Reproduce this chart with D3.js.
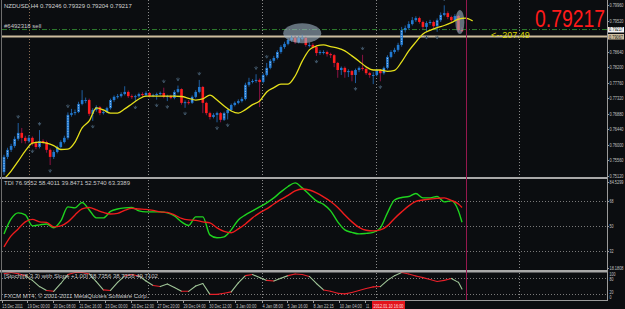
<!DOCTYPE html>
<html>
<head>
<meta charset="utf-8">
<script src="https://cdn.jsdelivr.net/npm/d3@7"></script>
<style>
html, body { margin: 0; padding: 0; background: #0b0d10; overflow: hidden; }
svg { display: block; }
text { font-family: "Liberation Sans", Arial, sans-serif; }
</style>
</head>
<body>
<svg id="chart" width="625" height="309"></svg>
<script>
// ---- data (prices in pips, 1 pip = 0.0001) ----
const symbol = "NZDUSD,H4"
const lastOHLC = [0.79246, 0.79329, 0.79204, 0.79217]
const firstOpenPips = 7523
const closePips = [
  7566,7586,7597,7617,7634,7620,7611,7620,7605,7594,
  7611,7608,7586,7566,7580,7594,7608,7620,7685,7690,
  7693,7716,7727,7727,7688,7699,7707,7690,7693,7704,
  7727,7736,7738,7744,7750,7738,7736,7738,7744,7741,
  7747,7738,7741,7744,7747,7736,7738,7733,7750,7758,
  7719,7721,7719,7736,7750,7764,7719,7690,7679,7685,
  7690,7671,7690,7699,7713,7719,7724,7730,7770,7778,
  7781,7784,7778,7798,7818,7838,7846,7863,7877,7886,
  7897,7903,7891,7903,7903,7883,7883,7877,7860,7863,
  7863,7857,7854,7832,7812,7818,7806,7809,7798,7812,
  7818,7815,7803,7798,7798,7812,7803,7818,7849,7863,
  7869,7883,7925,7931,7942,7953,7959,7948,7934,7945,
  7948,7936,7953,7968,7973,7962,7953,7965,7925,7922]
const highPips = [
  7572,7592,7603,7624,7662,7648,7626,7628,7624,7610,
  7642,7616,7612,7590,7585,7598,7613,7626,7692,7702,
  7700,7722,7755,7734,7731,7704,7712,7710,7698,7708,
  7731,7740,7744,7749,7766,7754,7743,7742,7748,7749,
  7752,7750,7745,7748,7751,7762,7742,7742,7755,7768,
  7760,7726,7727,7740,7755,7784,7767,7722,7694,7690,
  7694,7693,7694,7703,7717,7723,7729,7735,7776,7790,
  7786,7800,7788,7803,7832,7843,7852,7868,7882,7892,
  7902,7910,7908,7909,7912,7906,7890,7888,7880,7868,
  7868,7867,7861,7857,7835,7822,7822,7814,7812,7816,
  7822,7855,7819,7807,7806,7816,7815,7822,7854,7868,
  7875,7889,7934,7938,7950,7962,7964,7963,7952,7950,
  7954,7952,7958,7975,7995,7978,7966,7970,7968,7933]
const lowPips = [
  7515,7560,7580,7592,7612,7605,7604,7606,7598,7588,
  7590,7602,7578,7543,7560,7576,7590,7604,7615,7680,
  7684,7690,7712,7718,7682,7668,7694,7684,7686,7690,
  7700,7722,7731,7734,7740,7733,7730,7722,7734,7736,
  7737,7734,7735,7728,7740,7732,7724,7729,7729,7746,
  7714,7705,7714,7716,7732,7746,7690,7684,7672,7675,
  7664,7664,7668,7672,7695,7709,7715,7720,7726,7765,
  7774,7776,7707,7774,7794,7814,7832,7842,7858,7872,
  7882,7892,7886,7887,7896,7878,7876,7870,7852,7855,
  7856,7850,7846,7820,7790,7798,7790,7792,7780,7775,
  7806,7810,7798,7790,7772,7794,7780,7799,7814,7845,
  7858,7864,7878,7918,7926,7938,7948,7943,7928,7920,
  7940,7930,7920,7948,7964,7956,7948,7949,7920,7920]

// fractal arrows (bar indices)
const fractalUp = [4, 10, 18, 45, 49, 55, 71, 74, 101, 124]
const fractalDown = [8, 13, 25, 37, 43, 46, 51, 60, 63, 88, 99, 106, 119, 122]

// shifted moving average, one value every 2 bars from bar 0
const maPips = [
  7503,7526,7554,7583,7605,7608,7605,7598,7587,7588,
  7608,7648,7668,7705,7699,7690,7690,7702,7716,7730,
  7738,7738,7738,7738,7738,7737,7732,7727,7730,7741,
  7727,7710,7696,7690,7700,7714,7724,7750,7762,7772,
  7772,7795,7837,7869,7880,7883,7878,7874,7866,7852,
  7837,7821,7812,7812,7808,7811,7835,7866,7891,7914,
  7924,7932,7938,7946,7956,7959,7951]

// TDI: price line (green) and signal line (red), every 2 bars + last bar
const tdiPrice = [
  44.2,55.0,59.4,57.9,50.0,50.7,51.4,48.6,53.6,63.7,
  63.0,66.9,61.5,55.8,55.8,60.4,62.2,63.0,63.3,60.8,
  60.1,60.1,60.1,59.4,57.2,52.9,50.4,56.5,56.5,43.5,
  41.4,42.1,47.1,54.3,57.9,60.8,63.7,66.6,70.2,74.5,
  78.4,81.0,77.4,72.7,68.0,65.5,60.8,52.9,47.1,45.3,
  44.2,44.6,45.3,48.6,59.4,68.7,70.5,71.2,73.4,70.2,
  70.2,71.2,67.3,68.0,60.8,52.6]
const tdiSignal = [
  34.9,42.8,47.8,52.9,54.7,52.9,52.5,49.3,50.0,52.9,
  57.9,62.2,63.3,61.5,59.7,58.6,59.0,61.2,62.6,62.2,
  61.9,61.2,60.1,59.7,57.9,55.4,54.3,54.0,52.9,52.2,
  48.6,46.0,45.0,47.8,51.4,55.8,59.4,62.2,65.8,69.1,
  72.0,75.2,76.6,75.9,73.8,70.9,67.6,63.3,57.9,52.9,
  48.9,46.8,46.4,47.1,50.0,55.4,60.1,64.4,67.6,68.7,
  69.4,69.8,70.2,68.4,65.8,63.3]
const stochMain = [
  94,98,94,87,70,48,34,31,59,91,
  98,98,93,66,36,34,63,86,91,86,
  68,52,48,57,45,31,31,50,59,20,
  20,24,29,61,87,91,80,70,68,78,
  87,93,91,84,59,36,31,24,22,27,
  34,41,47,48,70,87,98,93,86,80,
  73,66,70,77,63,39]

// axis ticks and labels
const priceTicks = [0.79960,0.79520,0.79080,0.78640,0.78200,0.77760,0.77320,0.76880,0.76440,0.76000,0.75560,0.75120]
const orderPrice = 0.79265
const levelPrice = 0.79067
const tdiRange = [18.1808, 84.5299]
const tdiLevels = [68, 50, 32]
const stochLevels = [80, 20]
const weekBars = [7, 40.6, 72.7, 104.8, 145.1]
const cursorBar = 130
const timeLabels = ["15 Dec 2011","19 Dec 00:00","20 Dec 08:00","21 Dec 16:00","23 Dec 00:00","26 Dec 12:00",
  "27 Dec 20:00","29 Dec 04:00","30 Dec 12:00","3 Jan 00:00","4 Jan 08:00","5 Jan 16:00","8 Jan 22:15",
  "10 Jan 04:00","11 ."]
const timeLabelBars = [-0.6,6.5,13.8,21.1,28.4,35.8,43.1,50.4,57.7,65.2,72.7,79.7,87.0,94.4,101.8]

// ---- layout ----
const W = 625, H = 309
const left = 2, right = 607
const fmt5 = d3.format(".5f"), fmt4 = d3.format(".4f")

const x = d3.scaleLinear().domain([0, 129]).range([4, 462])
const yP = d3.scaleLinear().domain([0.75120, 0.79960]).range([176, 5])
const yT = d3.scaleLinear().domain(tdiRange).range([270, 178])
const yS = d3.scaleLinear().domain([0, 100]).range([300, 272])

// squeeze texts horizontally so they keep the narrow MT4 look
function squeeze(sel, px, py, width) {
  sel.attr("x", 0).attr("y", 0).each(function(d, k) {
    const w = this.getComputedTextLength()
    const s = Math.min(1, width(d, k) / w)
    d3.select(this).attr("transform", `translate(${px(d, k)},${py(d, k)}) scale(${s},1)`)
  })
}

const svg = d3.select("#chart")
svg.append("rect").attr("width", W).attr("height", H).attr("fill", "#0b0d10")

svg.append("defs").append("clipPath").attr("id", "mainclip")
  .append("rect").attr("x", left).attr("y", 0).attr("width", right - left).attr("height", 177)

// week separators
svg.append("g").selectAll("line").data(weekBars).join("line")
  .attr("x1", d => Math.round(x(d)) + .5).attr("x2", d => Math.round(x(d)) + .5)
  .attr("y1", 0).attr("y2", 300)
  .attr("stroke", (d, i) => i == 0 ? "#8c6c52" : "#8a8a8a")
  .attr("stroke-dasharray", "1,2")

// dotted levels in the sub windows
const levels = tdiLevels.map(v => yT(v)).concat(stochLevels.map(v => yS(v)))
svg.append("g").selectAll("line").data(levels).join("line")
  .attr("x1", left).attr("x2", right)
  .attr("y1", d => Math.round(d) + .5).attr("y2", d => Math.round(d) + .5)
  .attr("stroke", "#7a7a7a").attr("stroke-dasharray", "1,2")

// ---- main window ----
const main = svg.append("g").attr("clip-path", "url(#mainclip)")

main.append("line")
  .attr("x1", left).attr("x2", right)
  .attr("y1", yP(orderPrice)).attr("y2", yP(orderPrice))
  .attr("stroke", "#2f7d2f").attr("stroke-dasharray", "5,2,1,2")
main.append("line")
  .attr("x1", left).attr("x2", right)
  .attr("y1", yP(levelPrice)).attr("y2", yP(levelPrice))
  .attr("stroke", "#cdbd9e").attr("stroke-width", 2)

const bars = closePips.map((c, i) => ({
  i: i,
  o: (i ? closePips[i - 1] : firstOpenPips) / 1e4,
  h: highPips[i] / 1e4,
  l: lowPips[i] / 1e4,
  c: c / 1e4
}))

const candle = main.append("g").selectAll("g").data(bars).join("g")
candle.append("line")
  .attr("x1", d => x(d.i)).attr("x2", d => x(d.i))
  .attr("y1", d => yP(d.h)).attr("y2", d => yP(d.l))
  .attr("stroke", d => d.c >= d.o ? "#1f5d9e" : "#8c1242")
candle.append("rect")
  .attr("x", d => x(d.i) - 1.3).attr("width", 2.6)
  .attr("y", d => yP(Math.max(d.o, d.c)))
  .attr("height", d => Math.max(1, Math.abs(yP(d.o) - yP(d.c))))
  .attr("fill", d => d.c >= d.o ? "#2179d0" : "#ff1e1e")
candle.filter(d => d.c > d.o && yP(d.o) - yP(d.c) > 5).append("line")
  .attr("x1", d => x(d.i)).attr("x2", d => x(d.i))
  .attr("y1", d => yP(d.c) + 1).attr("y2", d => yP(d.o) - 1)
  .attr("stroke", "#cfe6ff").attr("stroke-width", .8).attr("stroke-dasharray", "1,1.5")

// fractal arrows
const arrow = "M-1.5,-1.2 L0,1.2 L1.5,-1.2 M0,1.2 L0,-2"
main.append("g").selectAll("path").data(fractalUp).join("path")
  .attr("transform", i => `translate(${x(i)},${yP(highPips[i] / 1e4) - 6})`)
  .attr("d", arrow).attr("fill", "none").attr("stroke", "#3f5466")
main.append("g").selectAll("path").data(fractalDown).join("path")
  .attr("transform", i => `translate(${x(i)},${yP(lowPips[i] / 1e4) + 6})`)
  .attr("d", arrow).attr("fill", "none").attr("stroke", "#3f5466")

// moving average
const ma = maPips.map((v, k) => [k * 2, v / 1e4])
svg.append("path").datum(ma)
  .attr("clip-path", "url(#mainclip)")
  .attr("fill", "none").attr("stroke", "#e6e01a").attr("stroke-width", 1.3)
  .attr("d", d3.line().x(d => x(d[0])).y(d => yP(d[1])).curve(d3.curveMonotoneX))

// highlight ovals
const ovals = [[84, 0.79160, 19, 10], [128.4, 0.79480, 4.5, 12]]
main.append("g").selectAll("ellipse").data(ovals).join("ellipse")
  .attr("cx", d => x(d[0])).attr("cy", d => yP(d[1]))
  .attr("rx", d => d[2]).attr("ry", d => d[3])
  .attr("fill", "#9fb3c3").attr("opacity", .6)

// texts of the main window
svg.append("text").attr("x", 4).attr("y", 8).attr("font-size", 6).attr("fill", "#d4d4d4")
  .text(symbol + "  " + lastOHLC.map(fmt5).join(" "))
svg.append("text").attr("x", 4).attr("y", 28).attr("font-size", 6).attr("fill", "#c8c8c8")
  .text("#6492318 sell")
svg.append("text").datum(lastOHLC[3]).attr("font-size", 23).attr("fill", "#ff1a1a")
  .text(fmt5)
  .call(squeeze, () => 535, () => 27, () => 70)
svg.append("text").attr("x", 491).attr("y", 37.5).attr("font-size", 9).attr("fill", "#d8d400")
  .text("<--207.49")

// ---- TDI window ----
const tdiBars = d3.range(0, 129, 2).concat([129])
const tline = d3.line().x((d, k) => x(tdiBars[k])).curve(d3.curveMonotoneX)
svg.append("path").datum(tdiPrice)
  .attr("fill", "none").attr("stroke", "#1fd31f").attr("stroke-width", 1.4)
  .attr("d", tline.y(d => yT(d)))
svg.append("path").datum(tdiSignal)
  .attr("fill", "none").attr("stroke", "#ee1c1c").attr("stroke-width", 1.4)
  .attr("d", tline.y(d => yT(d)))
svg.append("text").attr("x", 4).attr("y", 185).attr("font-size", 6).attr("fill", "#c8c8c8")
  .text("TDI 76.9552 58.4011 39.8471 52.5740 63.3389")

// ---- Stochastic window ----
const seg = d3.pairs(stochMain.map((v, k) => [tdiBars[k], v]))
svg.append("g").selectAll("line").data(seg).join("line")
  .attr("x1", d => x(d[0][0])).attr("y1", d => yS(d[0][1]))
  .attr("x2", d => x(d[1][0])).attr("y2", d => yS(d[1][1]))
  .attr("stroke", d => Math.abs(d[1][1] - d[0][1]) < 7.5 ? "#e8202a" : "#9fc497")
  .attr("stroke-width", 1.1).attr("stroke-linecap", "round")
svg.append("text").attr("x", 4).attr("y", 277.5).attr("font-size", 6).attr("fill", "#c8c8c8")
  .text("[Stoch](8,3,3) with Slope +1.00] 38.7356 38.7356 49.7102")
svg.append("text").attr("x", 4).attr("y", 297.5).attr("font-size", 6).attr("fill", "#c8c8c8")
  .text("FXCM MT4, \u00a9 2001-2011 MetaQuotes Software Corp.")

// ---- frames ----
svg.append("rect").attr("x", 0).attr("y", 177).attr("width", right).attr("height", 2).attr("fill", "#a8a8a8")
svg.append("rect").attr("x", 0).attr("y", 270).attr("width", right).attr("height", 2.5).attr("fill", "#a8a8a8")
svg.append("line").attr("x1", 0).attr("x2", right + .5).attr("y1", 300.5).attr("y2", 300.5).attr("stroke", "#9a9a9a")
svg.append("line").attr("x1", 1.5).attr("x2", 1.5).attr("y1", 0).attr("y2", 300).attr("stroke", "#6e6e6e")
svg.append("line").attr("x1", right + .5).attr("x2", right + .5).attr("y1", 0).attr("y2", 301).attr("stroke", "#9a9a9a")

// cursor line
svg.append("line")
  .attr("x1", Math.round(x(cursorBar)) + .5).attr("x2", Math.round(x(cursorBar)) + .5)
  .attr("y1", 0).attr("y2", 300).attr("stroke", "#96184e")

// ---- right axis ----
const axisText = "#c4c4c4"
const pAxis = svg.append("g")
pAxis.selectAll("line").data(priceTicks).join("line")
  .attr("x1", right).attr("x2", right + 2)
  .attr("y1", d => Math.round(yP(d)) + .5).attr("y2", d => Math.round(yP(d)) + .5)
  .attr("stroke", "#9a9a9a")
// the tick under the level boxes is hidden by them
pAxis.selectAll("text").data(priceTicks.filter(d => Math.abs(yP(d) - yP(levelPrice)) > 6)).join("text")
  .attr("font-size", 5.5).attr("fill", axisText)
  .text(fmt5)
  .call(squeeze, () => right + 2.5, d => yP(d) + 2, () => 14)

// level boxes
svg.append("rect").attr("x", right + 1).attr("y", 34).attr("width", 16).attr("height", 5.5).attr("fill", "#cdbd9e")
svg.append("text").datum(levelPrice).attr("font-size", 4.6).attr("fill", "#1a1a1a")
  .text(fmt5).call(squeeze, () => right + 2, () => 38.5, () => 14)
svg.append("rect").attr("x", right + 1).attr("y", 27).attr("width", 16).attr("height", 5.5).attr("fill", "#f2f2f2")
svg.append("text").datum(lastOHLC[3]).attr("font-size", 4.6).attr("fill", "#111")
  .text(fmt5).call(squeeze, () => right + 2, () => 31.4, () => 14)

// TDI axis
const tdiLabels = [[tdiRange[1], fmt4(tdiRange[1]), 182], [tdiRange[0], fmt4(tdiRange[0]), 267.5]]
  .concat(tdiLevels.map(v => [v, String(v), yT(v)]))
svg.append("g").selectAll("text").data(tdiLabels).join("text")
  .attr("font-size", 5.5).attr("fill", axisText)
  .text(d => d[1])
  .call(squeeze, () => right + 2.5, d => d[2] + 2, d => d[1].length * 2)
svg.append("g").selectAll("line").data(tdiLabels).join("line")
  .attr("x1", right).attr("x2", right + 2)
  .attr("y1", d => Math.round(d[2]) + .5).attr("y2", d => Math.round(d[2]) + .5)
  .attr("stroke", "#9a9a9a")

// stochastic axis
const stochLabels = [[100, 276], [80, 281], [20, 293.5], [0, 298.5]]
svg.append("g").selectAll("text").data(stochLabels).join("text")
  .attr("font-size", 4.5).attr("fill", axisText)
  .text(d => d[0])
  .call(squeeze, () => right + 2.5, d => d[1], d => String(d[0]).length * 2)

// ---- time axis ----
const tAxis = svg.append("g")
tAxis.selectAll("line").data(timeLabelBars).join("line")
  .attr("x1", d => Math.round(x(d)) + .5).attr("x2", d => Math.round(x(d)) + .5)
  .attr("y1", 301).attr("y2", 303).attr("stroke", "#9a9a9a")
tAxis.selectAll("text").data(timeLabels).join("text")
  .attr("font-size", 5.6).attr("fill", axisText)
  .text(d => d)
  .call(squeeze, (d, k) => x(timeLabelBars[k]) + .5, () => 307.5, d => d.length < 6 ? 5 : d.length * 1.85)

svg.append("rect").attr("x", 372).attr("y", 301).attr("width", 33).attr("height", 8).attr("fill", "#e3141c")
svg.append("text").attr("font-size", 5.6).attr("fill", "#ffe0e0")
  .text("2012.01.10 16:00")
  .call(squeeze, () => 373.5, () => 307.5, () => 30)
</script>
</body>
</html>
